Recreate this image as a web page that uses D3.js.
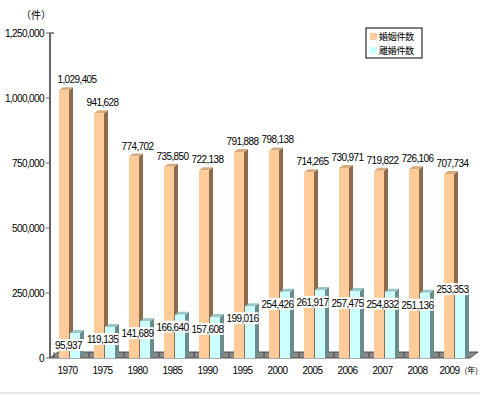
<!DOCTYPE html>
<html>
<head>
<meta charset="utf-8">
<script src="https://cdn.jsdelivr.net/npm/d3@7"></script>
<style>
body { margin: 0; background: #fff; }
text { font-family: "Liberation Sans", Arial, sans-serif; }
.jp { font-family: "Noto Sans CJK JP", sans-serif; }
</style>
</head>
<body>
<div id="chart"></div>
<script>
// 婚姻件数・離婚件数の推移
const years = ["1970", "1975", "1980", "1985", "1990", "1995", "2000", "2005", "2006", "2007", "2008", "2009"];
const marriages = [1029405, 941628, 774702, 735850, 722138, 791888, 798138, 714265, 730971, 719822, 726106, 707734];
const divorces = [95937, 119135, 141689, 166640, 157608, 199016, 254426, 261917, 257475, 254832, 251136, 253353];
const yTicks = [0, 250000, 500000, 750000, 1000000, 1250000];
const seriesNames = ["婚姻件数", "離婚件数"];

const width = 480, height = 395;
const svg = d3.select("#chart").append("svg")
	.attr("width", width)
	.attr("height", height);

const x = d3.scaleBand().domain(years).range([50, 470]);
const y = d3.scaleLinear().domain([0, 1250000]).range([358, 33]);
const fmt = d3.format(",");

const dx = 4, dy = -3, barW = 10;
const colors = [
	{ front: "#ffcc99", side: "#8c6c4c", top: "#d8aa7c" },
	{ front: "#ccffff", side: "#6c8c8c", top: "#99c8c8" }
];

// bottom border line
svg.append("line")
	.attr("x1", 0).attr("x2", width)
	.attr("y1", 393).attr("y2", 393)
	.attr("stroke", "#c8c8c8");

// floor
const y0 = y(0);
svg.append("path")
	.attr("d", `M50,${y0} L470,${y0} L478,${y0 - 6} L58,${y0 - 6} Z`)
	.attr("fill", "#8a8a8a")
	.attr("stroke", "#333")
	.attr("stroke-width", 0.8);
svg.selectAll(".floortick")
	.data(years)
	.enter()
	.append("line")
	.attr("x1", d => x(d) + 4).attr("x2", d => x(d) + 4)
	.attr("y1", y0 - 6).attr("y2", y0 - 1)
	.attr("stroke", "#444");

// y axis
svg.append("line")
	.attr("x1", 50).attr("x2", 50)
	.attr("y1", y(1250000)).attr("y2", y0)
	.attr("stroke", "#666").attr("stroke-width", 2);
svg.append("line")
	.attr("x1", 50).attr("x2", 54)
	.attr("y1", y(1250000)).attr("y2", y(1250000))
	.attr("stroke", "#666").attr("stroke-width", 1.5);
svg.selectAll(".ytick")
	.data(yTicks)
	.enter()
	.append("line")
	.attr("x1", 46).attr("x2", 50)
	.attr("y1", d => y(d)).attr("y2", d => y(d))
	.attr("stroke", "#666");
svg.selectAll(".ylabel")
	.data(yTicks)
	.enter()
	.append("text")
	.attr("x", 44)
	.attr("y", d => y(d) + 4)
	.attr("text-anchor", "end")
	.attr("font-size", 10)
	.attr("letter-spacing", -0.6)
	.text(d => fmt(d));
svg.append("text")
	.attr("class", "jp")
	.attr("x", 36).attr("y", 19)
	.attr("text-anchor", "middle")
	.attr("font-size", 10)
	.text("（件）");

// x labels
svg.selectAll(".xlabel")
	.data(years)
	.enter()
	.append("text")
	.attr("x", (d, i) => x(d) + x.bandwidth() / 2 - (i === years.length - 1 ? 3 : 0))
	.attr("y", 374)
	.attr("text-anchor", "middle")
	.attr("font-size", 10)
	.attr("letter-spacing", -0.5)
	.text(d => d);
svg.append("text")
	.attr("class", "jp")
	.attr("x", 478).attr("y", 373)
	.attr("text-anchor", "end")
	.attr("font-size", 8)
	.text("(年)");

// 3D bars
function drawBars(values, offset, c) {
	const g = svg.append("g");
	const xs = (d, i) => x(years[i]) + offset;
	g.selectAll(".side")
		.data(values)
		.enter()
		.append("path")
		.attr("d", (d, i) => {
			const x1 = xs(d, i) + barW, t = y(d);
			return `M${x1},${t} L${x1 + dx},${t + dy} L${x1 + dx},${y0 + dy} L${x1},${y0} Z`;
		})
		.attr("fill", c.side);
	g.selectAll(".top")
		.data(values)
		.enter()
		.append("path")
		.attr("d", (d, i) => {
			const x0 = xs(d, i), t = y(d);
			return `M${x0},${t} L${x0 + dx},${t + dy} L${x0 + barW + dx},${t + dy} L${x0 + barW},${t} Z`;
		})
		.attr("fill", c.top);
	g.selectAll(".front")
		.data(values)
		.enter()
		.append("rect")
		.attr("x", (d, i) => xs(d, i))
		.attr("y", d => y(d))
		.attr("width", barW)
		.attr("height", d => y0 - y(d))
		.attr("fill", c.front);
}
drawBars(marriages, 9, colors[0]);
drawBars(divorces, 20, colors[1]);

// marriage labels
svg.selectAll(".mlabel")
	.data(marriages)
	.enter()
	.append("text")
	.attr("x", (d, i) => Math.max(x(years[i]) + x.bandwidth() / 2, 77))
	.attr("y", d => y(d) - 7)
	.attr("text-anchor", "middle")
	.attr("font-size", 10)
	.attr("letter-spacing", -0.6)
	.text(d => fmt(d));

// divorce labels with white box
const dl = svg.selectAll(".dlabel")
	.data(divorces)
	.enter()
	.append("g")
	.attr("transform", (d, i) => {
		const cx = x(years[i]) + x.bandwidth() / 2 + (i === 0 ? 1 : 0);
		const cy = i === years.length - 1 ? y(d) - 3 : y(d) + 12;
		return `translate(${cx},${cy})`;
	});
dl.append("rect")
	.attr("x", -16).attr("y", -6)
	.attr("width", 32).attr("height", 12)
	.attr("fill", "#fff");
dl.append("text")
	.attr("y", 4)
	.attr("text-anchor", "middle")
	.attr("font-size", 10)
	.attr("letter-spacing", -0.6)
	.text(d => fmt(d));

// legend
const lg = svg.append("g").attr("transform", "translate(366,28)");
lg.append("rect")
	.attr("width", 56).attr("height", 30)
	.attr("fill", "#fff")
	.attr("stroke", "#000");
seriesNames.forEach((name, i) => {
	lg.append("rect")
		.attr("x", 4).attr("y", 5 + i * 14)
		.attr("width", 7).attr("height", 7)
		.attr("fill", colors[i].front);
	lg.append("text")
		.attr("class", "jp")
		.attr("x", 13).attr("y", 12 + i * 14)
		.attr("font-size", 9)
		.attr("letter-spacing", -0.3)
		.text(name);
});
</script>
</body>
</html>
